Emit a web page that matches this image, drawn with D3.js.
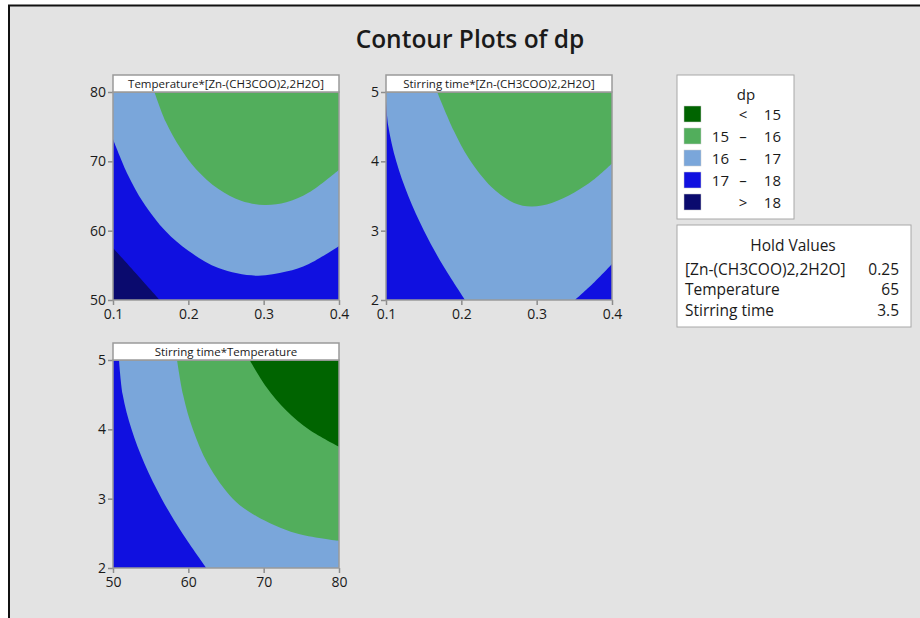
<!DOCTYPE html>
<html lang="en">
    <head>
        <meta charset="utf-8">
        <title>Contour Plots of dp</title>
        <script src="https://d3js.org/d3.v7.min.js"></script>
        <style>
          body { margin: 0; background: #fff; }
          text { font-family: "Open Sans", "Noto Sans", sans-serif; fill: #1a1a1a; }
        </style>
    </head>
    <body>
        <script type="text/javascript">

        var w = 920;
        var h = 618;

        // legend
        var levelColors = ["#006400", "#52ae5c", "#7aa6da", "#1010e0", "#0a0a6e"];
        var levelLow    = ["", "15", "16", "17", ""];
        var levelSign   = ["<", "\u2013", "\u2013", "\u2013", ">"];
        var levelHigh   = ["15", "16", "17", "18", "18"];

        // hold values
        var holdNames  = ["[Zn-(CH3COO)2,2H2O]", "Temperature", "Stirring time"];
        var holdValues = ["0.25", "65", "3.5"];

        // axis ticks
        var znTicks   = [0.1, 0.2, 0.3, 0.4];
        var tempTicks = [50, 60, 70, 80];
        var timeTicks = [2, 3, 4, 5];

        // contour boundaries, in data units
        // panel 1: x = Zn, y = Temperature
        var p1_dp18 = [[0.1, 57.5], [0.13, 53.9], [0.162, 50]];
        var p1_dp17 = [[0.1, 73.2], [0.12, 68.0], [0.14, 64.1], [0.17, 59.9], [0.2, 57.1], [0.24, 54.6],
                       [0.29, 53.5], [0.33, 54.1], [0.36, 55.2], [0.4, 57.8]];
        var p1_dp16 = [[0.155, 80], [0.17, 75.7], [0.19, 71.8], [0.21, 68.9], [0.24, 66.0], [0.27, 64.3],
                       [0.301, 63.7], [0.33, 64.1], [0.36, 65.5], [0.4, 68.8]];
        // panel 2: x = Zn, y = Stirring time
        var p2_dp17a = [[0.1, 4.87], [0.1032, 4.5], [0.1136, 4.0], [0.1296, 3.5], [0.1504, 3.0],
                        [0.1755, 2.5], [0.205, 2.0]];
        var p2_dp17b = [[0.351, 2.0], [0.375, 2.24], [0.4, 2.52]];
        var p2_dp16  = [[0.168, 5], [0.19, 4.44], [0.21, 4.04], [0.24, 3.63], [0.27, 3.40], [0.293, 3.35],
                        [0.32, 3.40], [0.35, 3.55], [0.375, 3.73], [0.4, 3.97]];
        // panel 3: x = Temperature, y = Stirring time
        var p3_dp17 = [[50.8, 5], [51.29, 4.5], [52.46, 4.0], [54.2, 3.5], [56.46, 3.0],
                       [59.2, 2.5], [62.39, 2.0]];
        var p3_dp16 = [[58.5, 5], [59.3, 4.5], [60.6, 4.0], [62.6, 3.5], [65.9, 3.0],
                       [69.0, 2.75], [74.3, 2.5], [80, 2.39]];
        var p3_dp15 = [[68.14, 5], [70.35, 4.61], [73.0, 4.27], [76.1, 3.99], [80, 3.75]];

        var panels = [
          { title: "Temperature*[Zn-(CH3COO)2,2H2O]", left: 113, top: 92, xd: [0.1, 0.4], yd: [50, 80],
            xt: znTicks, yt: tempTicks, fmt: d3.format(".1f"), base: 3,
            layers: [
              { pts: p1_dp17, corners: [[0.4, 80], [0.1, 80]], c: 2 },
              { pts: p1_dp16, corners: [[0.4, 80]], c: 1 },
              { pts: p1_dp18, corners: [[0.1, 50]], c: 4 }
            ] },
          { title: "Stirring time*[Zn-(CH3COO)2,2H2O]", left: 386, top: 92, xd: [0.1, 0.4], yd: [2, 5],
            xt: znTicks, yt: timeTicks, fmt: d3.format(".1f"), base: 2,
            layers: [
              { pts: p2_dp16, corners: [[0.4, 5]], c: 1 },
              { pts: p2_dp17a, corners: [[0.1, 2]], c: 3 },
              { pts: p2_dp17b, corners: [[0.4, 2]], c: 3 }
            ] },
          { title: "Stirring time*Temperature", left: 113, top: 360, xd: [50, 80], yd: [2, 5],
            xt: tempTicks, yt: timeTicks, fmt: d3.format("d"), base: 2,
            layers: [
              { pts: p3_dp17, corners: [[50, 2], [50, 5]], c: 3 },
              { pts: p3_dp16, corners: [[80, 5]], c: 1 },
              { pts: p3_dp15, corners: [[80, 5]], c: 0 }
            ] }
        ];
        var pw = 226, ph = 208;

        var svg = d3.select("body")
                    .append("svg")
                    .attr("width", w)
                    .attr("height", h);

        // background + frame
        svg.append("rect").attr("x", 8).attr("y", 5).attr("width", w - 8).attr("height", h - 5)
           .attr("fill", "#e3e3e3");
        svg.append("path").attr("d", "M9," + h + "V5.5H" + w)
           .attr("fill", "none").attr("stroke", "#111").attr("stroke-width", 2);

        svg.append("text").attr("x", 470).attr("y", 48).attr("text-anchor", "middle")
           .style("font-size", "24.5px").style("font-weight", 600).text("Contour Plots of dp");

        var defs = svg.append("defs");

        panels.forEach(function(p, i) {
          var x = d3.scaleLinear().domain(p.xd).range([0, pw]);
          var y = d3.scaleLinear().domain(p.yd).range([ph, 0]);
          var g = svg.append("g").attr("transform", "translate(" + p.left + "," + p.top + ")");

          defs.append("clipPath").attr("id", "clip" + i)
              .append("rect").attr("width", pw).attr("height", ph);

          var area = g.append("g").attr("clip-path", "url(#clip" + i + ")");
          area.append("rect").attr("width", pw).attr("height", ph).attr("fill", levelColors[p.base]);

          var line = d3.line()
                       .x(function(d) { return x(d[0]); })
                       .y(function(d) { return y(d[1]); })
                       .curve(d3.curveCatmullRom.alpha(0.5));

          area.selectAll("path.region")
              .data(p.layers)
              .enter()
              .append("path")
              .attr("class", "region")
              .attr("fill", function(d) { return levelColors[d.c]; })
              .attr("d", function(d) {
                return line(d.pts) + d.corners.map(function(c) {
                  return "L" + x(c[0]) + "," + y(c[1]);
                }).join("") + "Z";
              });

          // axes
          var ax = g.append("g").attr("transform", "translate(0," + ph + ")")
                    .call(d3.axisBottom(x).tickValues(p.xt).tickFormat(p.fmt).tickSize(5).tickPadding(4));
          var ay = g.append("g")
                    .call(d3.axisLeft(y).tickValues(p.yt).tickFormat(d3.format("d")).tickSize(5).tickPadding(2));
          [ax, ay].forEach(function(a) {
            a.select(".domain").remove();
            a.selectAll("line").attr("stroke", "#8c8c8c").attr("stroke-width", 1.5);
            a.selectAll("text").style("font-size", "14px").attr("fill", "#1a1a1a");
          });

          g.append("rect").attr("width", pw).attr("height", ph)
           .attr("fill", "none").attr("stroke", "#9a9a9a").attr("stroke-width", 1.5);

          // panel title box
          g.append("rect").attr("y", -17).attr("width", pw).attr("height", 17)
           .attr("fill", "#fff").attr("stroke", "#9a9a9a").attr("stroke-width", 1.5);
          g.append("text").attr("x", pw / 2).attr("y", -4.5).attr("text-anchor", "middle")
           .style("font-size", "11.5px").attr("fill", "#333").text(p.title);
        });

        // legend
        var leg = svg.append("g");
        leg.append("rect").attr("x", 677).attr("y", 75).attr("width", 117).attr("height", 144)
           .attr("fill", "#fff").attr("stroke", "#a8a8a8");
        leg.append("text").attr("x", 746).attr("y", 100).attr("text-anchor", "middle")
           .style("font-size", "15px").text("dp");
        var rows = leg.selectAll("g.row")
           .data(levelColors)
           .enter()
           .append("g")
           .attr("class", "row")
           .attr("transform", function(d, i) { return "translate(0," + (114 + i * 22) + ")"; });
        rows.append("rect").attr("x", 684).attr("y", -8).attr("width", 17).attr("height", 16)
            .attr("fill", function(d) { return d; }).attr("stroke", "#ccc").attr("stroke-width", 0.5);
        rows.append("text").attr("x", 729).attr("y", 5.5).attr("text-anchor", "end")
            .style("font-size", "15px").text(function(d, i) { return levelLow[i]; });
        rows.append("text").attr("x", 743).attr("y", 5.5).attr("text-anchor", "middle")
            .style("font-size", "15px").text(function(d, i) { return levelSign[i]; });
        rows.append("text").attr("x", 781).attr("y", 5.5).attr("text-anchor", "end")
            .style("font-size", "15px").text(function(d, i) { return levelHigh[i]; });

        // hold values
        var hold = svg.append("g");
        hold.append("rect").attr("x", 677).attr("y", 225).attr("width", 234).attr("height", 102)
            .attr("fill", "#fff").attr("stroke", "#a8a8a8");
        hold.append("text").attr("x", 793).attr("y", 250.5).attr("text-anchor", "middle")
            .style("font-size", "15.5px").text("Hold Values");
        holdNames.forEach(function(n, i) {
          hold.append("text").attr("x", 685).attr("y", 274.5 + i * 20.5)
              .style("font-size", "15.5px").text(n);
          hold.append("text").attr("x", 899).attr("y", 274.5 + i * 20.5).attr("text-anchor", "end")
              .style("font-size", "15.5px").text(holdValues[i]);
        });

        </script>
    </body>
</html>
